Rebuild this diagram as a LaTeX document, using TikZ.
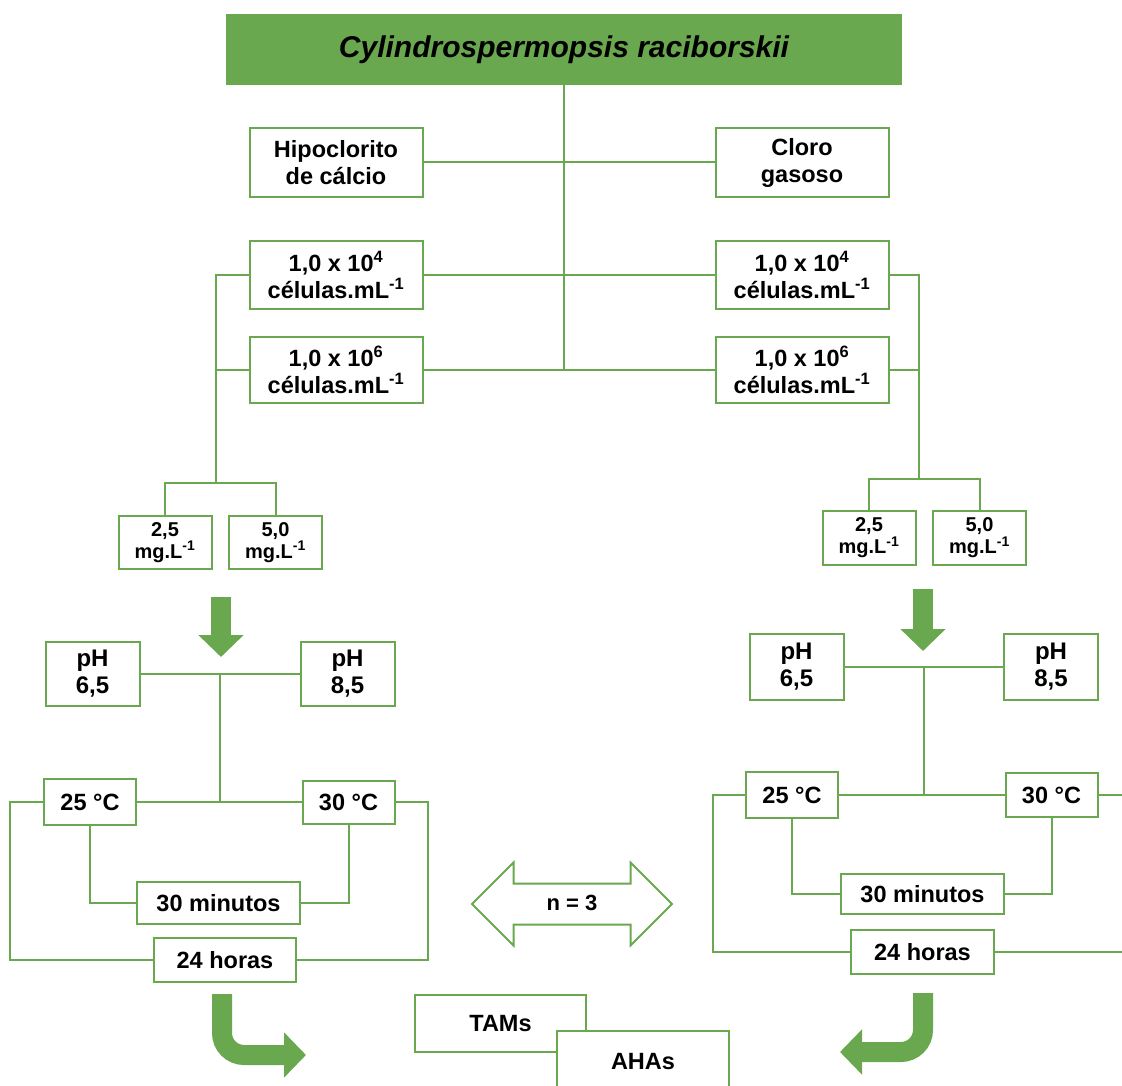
\documentclass[tikz,border=0pt]{standalone}
\usepackage{fontspec}
\setmainfont{Liberation Sans}
\usetikzlibrary{arrows.meta, shapes.arrows}
\definecolor{leaf}{RGB}{106,168,79}

\begin{document}
\begin{tikzpicture}[
	x=1pt, y=-1pt,
	font=\bfseries,
	box/.style={draw=leaf, line width=2pt, fill=white, align=center, inner sep=0pt},
	bigbox/.style={box, minimum width=173pt, font=\bfseries\fontsize{23.5}{27}\selectfont},
	dosebox/.style={box, minimum width=93pt, minimum height=54pt, font=\bfseries\fontsize{20}{22}\selectfont},
	phbox/.style={box, minimum width=94pt, minimum height=65pt, font=\bfseries\fontsize{24}{27}\selectfont},
	tempbox/.style={box, minimum width=92pt, minimum height=46pt, font=\bfseries\fontsize{23.5}{27}\selectfont},
	timebox/.style={box, font=\bfseries\fontsize{23.5}{27}\selectfont},
	wire/.style={draw=leaf, line width=2pt},
	fatarrow/.style={draw=leaf, line width=20pt, -{Triangle[width=44pt, length=22pt]}}
	]
	
	\useasboundingbox (0,0) rectangle (1122,1086);
	\clip (0,0) rectangle (1122,1086);
	
	% species and treatments
	\node[box, fill=leaf, minimum width=674pt, minimum height=69pt, font=\bfseries\itshape\fontsize{30}{34}\selectfont] (title) at (564,49.5) {Cylindrospermopsis raciborskii};
	\node[bigbox, minimum height=69pt] (hipo) at (336,162.5) {Hipoclorito\\de cálcio};
	\node[bigbox, minimum height=69pt] (cloro) at (802,162.5) {Cloro\\gasoso};
	\node[bigbox, minimum height=68pt] (dilAl) at (336,275) {1,0 x 10\textsuperscript{4}\\células.mL\textsuperscript{-1}};
	\node[bigbox, minimum height=68pt] (dilAr) at (802,275) {1,0 x 10\textsuperscript{4}\\células.mL\textsuperscript{-1}};
	\node[bigbox, minimum height=66pt] (dilBl) at (336,370) {1,0 x 10\textsuperscript{6}\\células.mL\textsuperscript{-1}};
	\node[bigbox, minimum height=66pt] (dilBr) at (802,370) {1,0 x 10\textsuperscript{6}\\células.mL\textsuperscript{-1}};
	
	\draw[wire] (title.south) -- (title.south |- dilBl.east);
	\draw[wire] (hipo.east) -- (cloro.west);
	\draw[wire] (dilAl.east) -- (dilAr.west);
	\draw[wire] (dilBl.east) -- (dilBr.west);
	
	% doses
	\node[dosebox, minimum height=53pt] (doseAl) at (165,542.5) {2,5\\mg.L\textsuperscript{-1}};
	\node[dosebox, minimum height=53pt] (doseBl) at (275.5,542.5) {5,0\\mg.L\textsuperscript{-1}};
	\node[dosebox] (doseAr) at (869,538) {2,5\\mg.L\textsuperscript{-1}};
	\node[dosebox] (doseBr) at (979.5,538) {5,0\\mg.L\textsuperscript{-1}};
	
	\coordinate (brL) at (216,483);
	\coordinate (brR) at (919,479);
	\draw[wire] (dilAl.west) -| (brL);
	\draw[wire] (dilBl.west) -- (dilBl.west -| brL);
	\draw[wire] (doseAl.north) |- (brL) -| (doseBl.north);
	\draw[wire] (dilAr.east) -| (brR);
	\draw[wire] (dilBr.east) -- (dilBr.east -| brR);
	\draw[wire] (doseAr.north) |- (brR) -| (doseBr.north);
	
	\coordinate (dropLa) at (221,597);
	\coordinate (dropLb) at (221,657);
	\coordinate (dropRa) at (923,589);
	\coordinate (dropRb) at (923,651);
	\draw[fatarrow] (dropLa) -- (dropLb);
	\draw[fatarrow] (dropRa) -- (dropRb);
	
	% left branch
	\node[phbox, minimum height=64pt] (phAl) at (92.5,674) {pH\\6,5};
	\node[phbox, minimum height=64pt] (phBl) at (347.5,674) {pH\\8,5};
	\node[tempbox] (tempAl) at (90,802) {25 °C};
	\node[tempbox, minimum height=43pt] (tempBl) at (348.5,802) {30 °C};
	\node[timebox, minimum width=163pt, minimum height=42pt] (minsL) at (218.5,903) {30 minutos};
	\node[timebox, minimum width=142pt, minimum height=44pt] (hoursL) at (225,960) {24 horas};
	
	\draw[wire] (phAl.east) -- coordinate (phL) (phBl.west);
	\draw[wire] (phL) -- (phL |- tempAl.east);
	\draw[wire] (tempAl.east) -- (tempBl.west);
	\draw[wire] (tempAl.west) -- ++(-33,0) |- (hoursL.west);
	\draw[wire] (tempBl.east) -- ++(32,0) |- (hoursL.east);
	\draw[wire] (tempAl.south) |- (minsL.west);
	\draw[wire] (tempBl.south) |- (minsL.east);
	
	% right branch
	\node[phbox, minimum height=66pt] (phAr) at (796.5,667) {pH\\6,5};
	\node[phbox, minimum height=66pt] (phBr) at (1051,667) {pH\\8,5};
	\node[tempbox] (tempAr) at (792,795) {25 °C};
	\node[tempbox, minimum height=44pt] (tempBr) at (1051.5,795) {30 °C};
	\node[timebox, minimum width=163pt, minimum height=40pt] (minsR) at (922.5,894) {30 minutos};
	\node[timebox, minimum width=143pt, minimum height=44pt] (hoursR) at (922.5,952) {24 horas};
	
	\draw[wire] (phAr.east) -- coordinate (phR) (phBr.west);
	\draw[wire] (phR) -- (phR |- tempAr.east);
	\draw[wire] (tempAr.east) -- (tempBr.west);
	\draw[wire] (tempAr.west) -- ++(-32,0) |- (hoursR.west);
	\draw[wire] (tempBr.east) -- ++(40,0) |- (hoursR.east);
	\draw[wire] (tempAr.south) |- (minsR.west);
	\draw[wire] (tempBr.south) |- (minsR.east);
	
	% replicates
	\node[double arrow, draw=leaf, line width=2pt, fill=white, minimum height=200pt,
		double arrow head extend=21pt, inner xsep=0pt, inner ysep=13.5pt,
		text height=12pt, text depth=0pt, font=\bfseries\fontsize{22}{24}\selectfont] (reps) at (572,904) {n = 3};
	
	% analyses
	\coordinate (bendLa) at (222,994);
	\coordinate (bendLb) at (306,1055);
	\coordinate (bendRa) at (923,993);
	\coordinate (bendRb) at (840,1052);
	\draw[fatarrow, rounded corners=22pt] (bendLa) |- (bendLb);
	\draw[fatarrow, rounded corners=22pt] (bendRa) |- (bendRb);
	
	\node[box, minimum width=171pt, minimum height=57pt, font=\bfseries\fontsize{23.5}{27}\selectfont] (tams) at (500.5,1023.5) {TAMs};
	\node[box, minimum width=172pt, minimum height=62pt, font=\bfseries\fontsize{23.5}{27}\selectfont] (ahas) at (643,1062) {AHAs};
	
\end{tikzpicture}
\end{document}
